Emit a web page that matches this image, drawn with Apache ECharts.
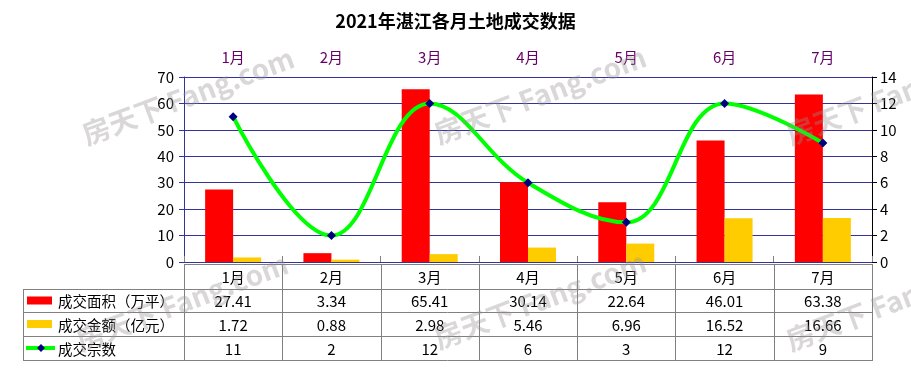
<!DOCTYPE html>
<html>
<head>
<meta charset="utf-8">
<script src="https://cdn.jsdelivr.net/npm/echarts@6/dist/echarts.min.js"></script>
<style>
html, body { margin: 0; padding: 0; background: #fff; }
#main { width: 911px; height: 376px; }
</style>
</head>
<body>
<div id="main"></div>
<script>
var months = ['1月', '2月', '3月', '4月', '5月', '6月', '7月'];
var areaData = [27.41, 3.34, 65.41, 30.14, 22.64, 46.01, 63.38];
var amountData = [1.72, 0.88, 2.98, 5.46, 6.96, 16.52, 16.66];
var countData = [11, 2, 12, 6, 3, 12, 9];
var seriesNames = ['成交面积（万平）', '成交金额（亿元）', '成交宗数'];
var tableRows = [areaData, amountData, countData];

var FONT = '"Noto Sans CJK SC", "DejaVu Sans", sans-serif';
var gridLeft = 184, gridRight = 872, gridTop = 77, gridBottom = 262;
var colW = (gridRight - gridLeft) / months.length;
var rowY = [264, 289, 312, 336, 360];
var tableLeft = 23;
var lineColor = '#808080';

var myChart = echarts.init(document.getElementById('main'));

// table drawn below the plot
var graphics = [];
function hline(x1, x2, y) {
    graphics.push({ type: 'line', shape: { x1: x1, y1: y + 0.5, x2: x2, y2: y + 0.5 }, style: { stroke: lineColor, lineWidth: 1 }, silent: true });
}
function vline(x, y1, y2) {
    graphics.push({ type: 'line', shape: { x1: Math.round(x) + 0.5, y1: y1, x2: Math.round(x) + 0.5, y2: y2 }, style: { stroke: lineColor, lineWidth: 1 }, silent: true });
}
function cellText(txt, x, y, align, size) {
    graphics.push({
        type: 'text', silent: true,
        style: { text: txt, x: x, y: y, align: align || 'center', verticalAlign: 'middle', textAlign: align || 'center', textVerticalAlign: 'middle', font: (size || 15) + 'px ' + FONT, fill: '#000' }
    });
}
hline(gridLeft, gridRight, rowY[0]);
for (var r = 1; r < rowY.length; r++) hline(tableLeft, gridRight, rowY[r]);
vline(tableLeft, rowY[1], rowY[4] + 1);
for (var c = 0; c <= months.length; c++) vline(gridLeft + c * colW, rowY[0], rowY[4] + 1);
for (var c = 0; c < months.length; c++) {
    var cx = gridLeft + (c + 0.5) * colW;
    cellText(months[c], cx, (rowY[0] + rowY[1]) / 2 + 1);
    for (var r = 0; r < tableRows.length; r++) {
        cellText(String(tableRows[r][c]), cx, (rowY[r + 1] + rowY[r + 2]) / 2 + 1);
    }
}
// legend keys inside the table
var keyColors = ['#ff0000', '#ffcc00'];
for (var r = 0; r < 3; r++) {
    var cy = (rowY[r + 1] + rowY[r + 2]) / 2;
    if (r < 2) {
        graphics.push({ type: 'rect', silent: true, shape: { x: 27, y: cy - 4, width: 25, height: 8 }, style: { fill: keyColors[r] } });
    } else {
        graphics.push({ type: 'line', silent: true, shape: { x1: 26, y1: cy, x2: 55, y2: cy }, style: { stroke: '#00ff00', lineWidth: 4 } });
        graphics.push({ type: 'polygon', silent: true, shape: { points: [[41, cy - 4], [45, cy], [41, cy + 4], [37, cy]] }, style: { fill: '#000080' } });
    }
    cellText(seriesNames[r], 58, cy + 1, 'left', 14.5);
}
// watermark
var wmPos = [[188, 96], [540, 95], [892, 96], [182, 302], [540, 300], [892, 302]];
wmPos.forEach(function (p) {
    graphics.push({
        type: 'text', silent: true, z: 100, x: p[0], y: p[1], rotation: 0.36,
        style: { text: '房天下 Fang.com', x: 0, y: 0, align: 'center', verticalAlign: 'middle', textAlign: 'center', textVerticalAlign: 'middle', font: 'bold 28px ' + FONT, fill: 'rgba(150,145,145,0.36)' }
    });
});

var option = {
    animation: false,
    backgroundColor: '#fff',
    title: {
        text: '2021年湛江各月土地成交数据',
        left: 'center',
        top: 7,
        textStyle: { fontFamily: FONT, fontSize: 18, fontWeight: 'bold', color: '#000' }
    },
    grid: { left: gridLeft, top: gridTop, width: gridRight - gridLeft, height: gridBottom - gridTop },
    xAxis: [{
        type: 'category',
        position: 'top',
        data: months,
        axisLine: { lineStyle: { color: lineColor, width: 1 } },
        axisTick: { show: true, inside: false, length: 6, lineStyle: { color: lineColor } },
        axisLabel: { color: '#660066', fontSize: 15, fontFamily: FONT, margin: 12 },
        splitLine: { show: false }
    }, {
        type: 'category',
        position: 'bottom',
        data: months,
        axisLine: { lineStyle: { color: '#333399', width: 1 } },
        axisTick: { show: false },
        axisLabel: { show: false }
    }],
    yAxis: [{
        type: 'value',
        min: 0, max: 70, interval: 10,
        axisLine: { show: true, lineStyle: { color: '#333399' } },
        axisTick: { show: true, length: 5, lineStyle: { color: '#333399' } },
        axisLabel: { color: '#000', fontSize: 15, fontFamily: FONT, margin: 10 },
        splitLine: { lineStyle: { color: '#333399', width: 1 } }
    }, {
        type: 'value',
        min: 0, max: 14, interval: 2,
        axisLine: { show: true, lineStyle: { color: '#000' } },
        axisTick: { show: true, length: 5, lineStyle: { color: '#000' } },
        axisLabel: { color: '#000', fontSize: 15, fontFamily: FONT, margin: 8 },
        splitLine: { show: false }
    }],
    series: [{
        name: seriesNames[0],
        type: 'bar',
        data: areaData,
        barWidth: 28,
        barGap: '0%',
        itemStyle: { color: '#ff0000' }
    }, {
        name: seriesNames[1],
        type: 'bar',
        data: amountData,
        barWidth: 28,
        itemStyle: { color: '#ffcc00' }
    }, {
        name: seriesNames[2],
        type: 'line',
        yAxisIndex: 1,
        data: countData,
        smooth: 0.4,
        smoothConstraint: false,
        symbol: 'diamond',
        symbolSize: 9,
        lineStyle: { color: '#00ff00', width: 4 },
        itemStyle: { color: '#000080' },
        z: 5
    }],
    graphic: graphics
};
myChart.setOption(option);
</script>
</body>
</html>
